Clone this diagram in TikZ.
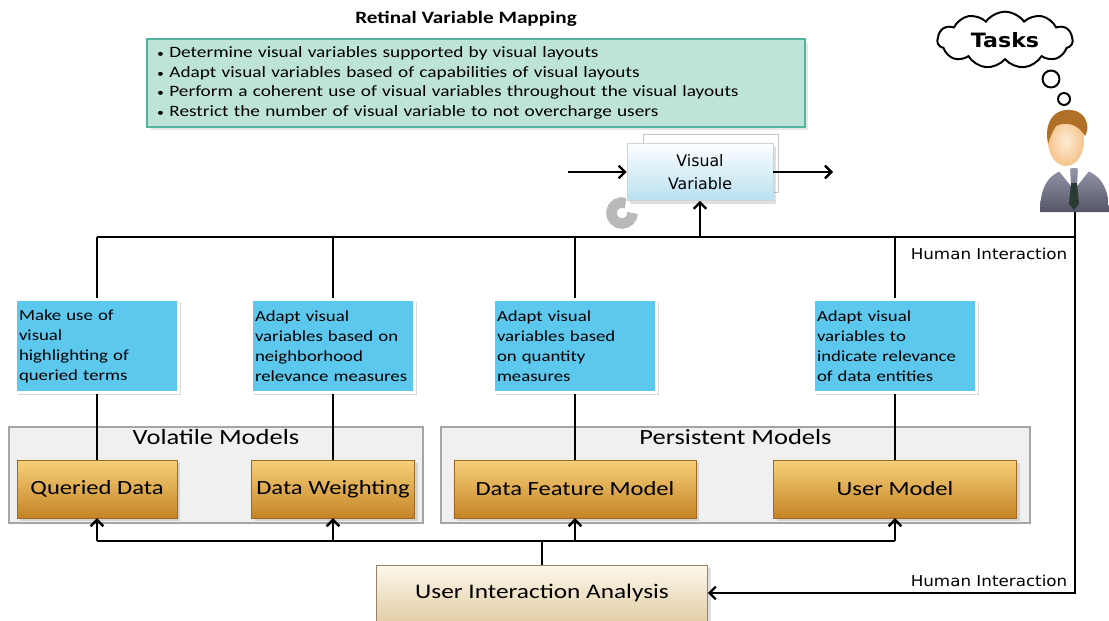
\documentclass[tikz,border=0pt]{standalone}
\usepackage{fontspec}
\setmainfont{Carlito}[FakeStretch=1.22]
\newfontfamily\verdfont{DejaVu Sans}[FakeStretch=1.12]
\newfontfamily\vvfont{DejaVu Sans}
\usetikzlibrary{positioning,shapes.symbols,shadows,arrows.meta}

\definecolor{mintfill}{RGB}{190,228,218}
\definecolor{mintline}{RGB}{82,180,156}
\definecolor{skyblue}{RGB}{92,200,238}
\definecolor{ambertop}{RGB}{247,208,122}
\definecolor{amberbot}{RGB}{196,132,38}
\definecolor{amberline}{RGB}{160,105,35}
\definecolor{creamtop}{RGB}{253,248,236}
\definecolor{creambot}{RGB}{226,206,168}
\definecolor{groupfill}{RGB}{240,240,240}
\definecolor{groupline}{RGB}{165,165,165}
\definecolor{icetop}{RGB}{252,254,255}
\definecolor{icebot}{RGB}{184,224,240}
\definecolor{bodytop}{RGB}{150,150,170}
\definecolor{bodybot}{RGB}{85,85,105}
\definecolor{skin}{RGB}{244,196,140}
\definecolor{skinlight}{RGB}{255,236,212}
\definecolor{hair}{RGB}{176,112,40}
\definecolor{tiecol}{RGB}{40,60,50}

\newcommand\rulebullet{{\fontsize{8}{8}\selectfont\textbullet}\ }

\begin{document}
\begin{tikzpicture}[x=0.709pt,y=-0.709pt,
wire/.style={line width=1.7pt},
tip/.style={wire,-{Straight Barb[length=4.5pt,width=9pt]}},
rulebox/.style={draw=mintline,line width=1.5pt,fill=mintfill,drop shadow={opacity=.2},
    minimum width=466pt,minimum height=62pt,text width=452pt,inner xsep=4pt,align=left,
    font=\fontsize{11.2}{13.9}\selectfont},
task/.style={draw=white,line width=2pt,fill=skyblue,
    drop shadow={opacity=.3,shadow xshift=1.5pt,shadow yshift=-1.5pt},
    text width=110.6pt,inner xsep=2.5pt,minimum height=66pt,align=left,
    font=\fontsize{10.9}{14.2}\selectfont},
model/.style={draw=amberline,top color=ambertop,bottom color=amberbot,minimum height=41pt,
    drop shadow={opacity=.25},font=\fontsize{14.3}{16}\selectfont},
group/.style={draw=groupline,line width=1pt,fill=groupfill,minimum height=68pt},
grouptitle/.style={font=\fontsize{15.4}{17}\selectfont,inner sep=1pt},
hilabel/.style={font=\verdfont\fontsize{10.6}{12}\selectfont,inner sep=1pt}]

\useasboundingbox (0,0) rectangle (1109,620);

% mapping rules on top
\node (title) [font=\bfseries\fontsize{12.3}{14}\selectfont] at (466,19) {Retinal Variable Mapping};
\node (rules) [rulebox] at (476,83) {%
\rulebullet Determine visual variables supported by visual layouts\\
\rulebullet Adapt visual variables based of capabilities of visual layouts\\
\rulebullet Perform a coherent use of visual variables throughout the visual layouts\\
\rulebullet Restrict the number of visual variable to not overcharge users};

% visual variable stack
\node (vvback) [draw=gray!45,fill=white,minimum width=96pt,minimum height=41pt] at (711,163) {};
\node (vv) [draw=gray!35,top color=icetop,bottom color=icebot,drop shadow={opacity=.25},
    minimum width=103.5pt,minimum height=40.4pt,align=center,
    font=\vvfont\fontsize{11.2}{16}\selectfont] at (700,172) {Visual\\Variable};
\coordinate (vvin) at (568,172);
\coordinate (vvout) at (833,172);
\draw[tip] (vvin) -- (vv.west);
\draw[tip] (vv.east) -- (vvout);
\draw[gray!55,line width=7.5pt] (622,213) ++(10.5,0) arc[start angle=0,end angle=290,radius=10.5];

% user with thought cloud
\node (tasks) [cloud,draw,line width=1.4pt,cloud puffs=11,cloud puff arc=110,aspect=2.6,
    minimum width=96pt,minimum height=37pt,font=\verdfont\bfseries\fontsize{14}{16}\selectfont]
    at (1005,40) {Tasks};
\node (bub1) [circle,draw,line width=1.4pt,minimum size=12pt,inner sep=0pt] at (1051,79) {};
\node (bub2) [circle,draw,line width=1.4pt,minimum size=8.5pt,inner sep=0pt] at (1064,99) {};
\shade[top color=bodytop,bottom color=bodybot] (1040,212) .. controls (1040,182) and (1052,170) .. (1074,168)
    .. controls (1096,170) and (1109,182) .. (1109,212) -- cycle;
\fill[white] (1059,171) -- (1071,186) -- (1070,168) -- cycle;
\fill[white] (1089,171) -- (1077,186) -- (1078,168) -- cycle;
\fill[tiecol] (1071,183) -- (1077,183) -- (1079,204) -- (1074,210) -- (1069,204) -- cycle;
\shade[inner color=skinlight,outer color=skin] (1066,141) ellipse [x radius=18,y radius=25];
\fill[hair] (1048,144) .. controls (1043,118) and (1058,106) .. (1076,111)
    .. controls (1087,115) and (1090,128) .. (1085,136)
    .. controls (1078,124) and (1066,121) .. (1056,126)
    .. controls (1052,132) and (1050,138) .. (1048,144) -- cycle;
\coordinate (userfoot) at (1075,212);

% model groups
\node (vol) [group,minimum width=293.5pt] at (216,475) {};
\node (per) [group,minimum width=417.6pt] at (735.5,475) {};
\node (voltitle) [grouptitle,below=1pt of vol.north] {Volatile Models};
\node (pertitle) [grouptitle,below=1pt of per.north] {Persistent Models};

\node (qd) [model,minimum width=113.4pt] at (97,489) {Queried Data};
\node (dw) [model,minimum width=112pt] at (333,489) {Data Weighting};
\node (dfm) [model,minimum width=171.6pt] at (575,489) {Data Feature Model};
\node (um) [model,minimum width=172.3pt] at (895,489) {User Model};

% adaptation rules
\node (hl1) [task] at (97,346) {Make use of\\visual\\highlighting of\\queried terms};
\node (hl2) [task] at (333,346) {Adapt visual\\variables based on\\neighborhood\\relevance measures};
\node (hl3) [task] at (575,346) {Adapt visual\\variables based\\on quantity\\measures};
\node (hl4) [task] at (895,346) {Adapt visual\\variables to\\indicate relevance\\of data entities};

\node (uia) [draw=gray!60!brown,top color=creamtop,bottom color=creambot,drop shadow={opacity=.25},
    minimum width=234.7pt,minimum height=39.7pt,font=\fontsize{14.7}{17}\selectfont]
    at (542,593) {User Interaction Analysis};

% top bus
\coordinate (bus) at (97,237);
\draw[wire] (bus) -- (bus -| userfoot);
\draw[tip] (vv.south |- bus) -- (vv.south);
\draw[wire] (hl1.north |- bus) -- (hl1.north);
\draw[wire] (hl2.north |- bus) -- (hl2.north);
\draw[wire] (hl3.north |- bus) -- (hl3.north);
\draw[wire] (hl4.north |- bus) -- (hl4.north);
\draw[wire] (hl1.south) -- (qd.north);
\draw[wire] (hl2.south) -- (dw.north);
\draw[wire] (hl3.south) -- (dfm.north);
\draw[wire] (hl4.south) -- (um.north);

% bottom bus
\coordinate (lowbus) at (542,541);
\draw[wire] (qd.south |- lowbus) -- (um.south |- lowbus);
\draw[tip] (qd.south |- lowbus) -- (qd.south);
\draw[tip] (dw.south |- lowbus) -- (dw.south);
\draw[tip] (dfm.south |- lowbus) -- (dfm.south);
\draw[tip] (um.south |- lowbus) -- (um.south);
\draw[wire] (uia.north) -- (uia.north |- lowbus);

% human interaction
\draw[tip] (userfoot) |- (uia.east);
\node (hitop) [hilabel,anchor=north east] at (1069,246) {Human Interaction};
\node (hibot) [hilabel,anchor=south east] at (1069,588) {Human Interaction};
\end{tikzpicture}
\end{document}
